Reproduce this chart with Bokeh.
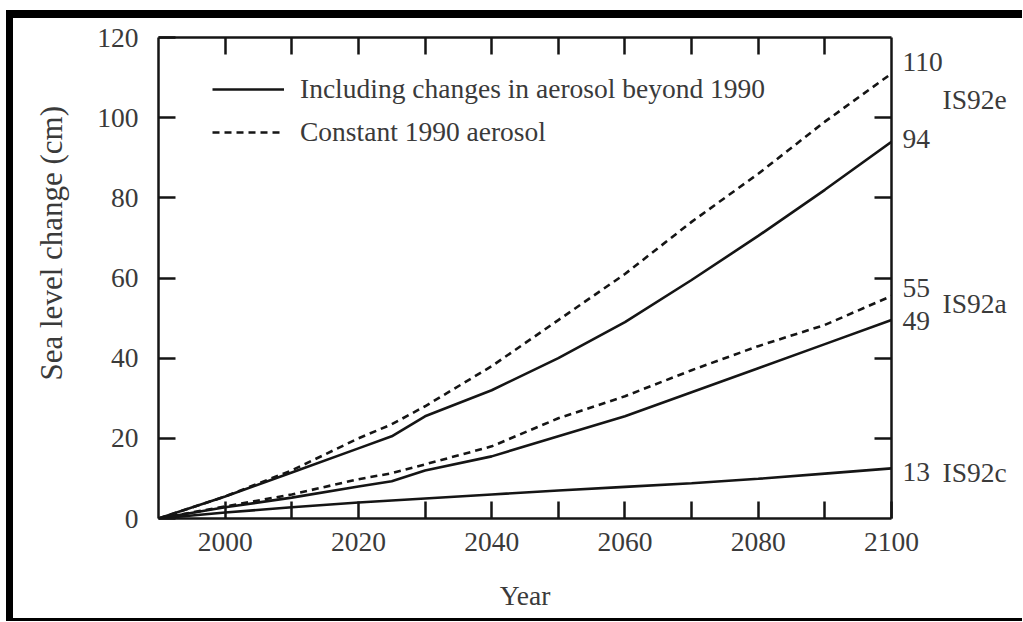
from bokeh.plotting import figure
from bokeh.models import (LinearAxis, FixedTicker, Legend, LegendItem, Range1d, Title)
from bokeh.embed import file_html
from bokeh.resources import INLINE

# ---- data ----
years = [1990, 2000, 2010, 2020, 2025, 2030, 2040, 2050, 2060, 2070, 2080, 2090, 2100]
is92e_incl = [0, 5.5, 11.5, 17.5, 20.5, 25.5, 32, 40, 49, 59.5, 70.5, 82, 94]
is92e_const = [0, 5.5, 12, 20, 23.5, 28, 38, 49.5, 61, 74, 86, 99, 111]
is92a_incl = [0, 2.8, 5.2, 8.0, 9.3, 12, 15.5, 20.5, 25.5, 31.5, 37.5, 43.5, 49.5]
is92a_const = [0, 3, 6, 9.8, 11.3, 13.5, 18, 25, 30.5, 37, 43, 48.3, 55.5]
is92c_incl = [0, 1.5, 2.8, 4.0, 4.5, 5.0, 6.0, 7.0, 7.9, 8.8, 9.9, 11.2, 12.5]

end_labels = ["110", "94", "55", "49", "13"]
scenario_labels = ["IS92e", "IS92a", "IS92c"]
legend_labels = ["Including changes in aerosol beyond 1990", "Constant 1990 aerosol"]
x_label = "Year"
y_label = "Sea level change (cm)"

y_ticks = [0, 20, 40, 60, 80, 100, 120]
y_inner_ticks = [20, 40, 60, 80, 100]
x_major = [2000, 2020, 2040, 2060, 2080, 2100]
x_minor = [2010, 2030, 2050, 2070, 2090]
x_top = [2000, 2010, 2020, 2030, 2040, 2050, 2060, 2070, 2080, 2090]

# anchor heights (cm) of the right-hand annotations
end_label_pos = [114.0, 94.6, 57.4, 49.2, 11.5]
scenario_label_pos = [104.5, 53.6, 11.4]

# ---- styling ----
FONT = "Liberation Serif"
TXT = "#3a3a3a"
LINE = "#151515"
FS = "27.5px"

p = figure(width=1016, height=611, output_backend="svg", toolbar_location=None,
           x_range=Range1d(1990, 2100), y_range=Range1d(0, 120),
           min_border_left=152, min_border_right=131, min_border_top=27, min_border_bottom=103,
           x_axis_location=None, y_axis_location=None)
p.margin = (10, 0, 0, 6)
p.styles = {"box-shadow": "inset 7px 8px 0 0 #000000, inset 0 -3px 0 0 #000000"}
p.outline_line_color = None
p.xgrid.visible = False
p.ygrid.visible = False
p.background_fill_color = "white"
p.border_fill_color = None


def style_axis(ax):
    ax.axis_line_color = LINE
    ax.axis_line_width = 2.5
    ax.major_tick_line_color = LINE
    ax.major_tick_line_width = 2.5
    ax.minor_tick_line_color = LINE
    ax.minor_tick_line_width = 2.5
    ax.major_tick_in = 17
    ax.major_tick_out = 0
    ax.minor_tick_in = 17
    ax.minor_tick_out = 0
    ax.major_label_text_font = FONT
    ax.major_label_text_font_size = FS
    ax.major_label_text_color = TXT
    ax.axis_label_text_font = FONT
    ax.axis_label_text_font_style = "normal"
    ax.axis_label_text_color = TXT


left = LinearAxis(ticker=FixedTicker(ticks=y_ticks))
style_axis(left)
left.major_label_standoff = 20
p.add_layout(left, "left")

ytitle = Title(text=y_label, align="left", offset=138, vertical_align="middle",
               standoff=50, text_font=FONT, text_font_size="31px",
               text_font_style="normal", text_color=TXT)
p.add_layout(ytitle, "left")

bottom = LinearAxis(ticker=FixedTicker(ticks=x_major, minor_ticks=x_minor), axis_label=x_label)
style_axis(bottom)
bottom.major_label_standoff = 14
bottom.axis_label_text_font_size = FS
bottom.axis_label_standoff = 26
p.add_layout(bottom, "below")

top = LinearAxis(ticker=FixedTicker(ticks=[], minor_ticks=x_top))
style_axis(top)
p.add_layout(top, "above")

# right frame line: 20-cm ticks as minor ticks, end values as labelled (tickless) majors
right = LinearAxis(ticker=FixedTicker(ticks=end_label_pos, minor_ticks=y_inner_ticks),
                   major_label_overrides={v: t for v, t in zip(end_label_pos, end_labels)})
style_axis(right)
right.major_tick_in = 0
right.major_label_standoff = 11
p.add_layout(right, "right")

names = LinearAxis(ticker=FixedTicker(ticks=scenario_label_pos),
                   major_label_overrides={v: t for v, t in zip(scenario_label_pos, scenario_labels)})
style_axis(names)
names.axis_line_color = None
names.major_tick_in = 0
names.major_label_standoff = -3
p.add_layout(names, "right")

# ---- curves ----
W = 2.6
DASH = "7 5"
r_e_incl = p.line(years, is92e_incl, line_color=LINE, line_width=W)
r_e_const = p.line(years, is92e_const, line_color=LINE, line_width=W, line_dash=DASH)
p.line(years, is92a_incl, line_color=LINE, line_width=W)
p.line(years, is92a_const, line_color=LINE, line_width=W, line_dash=DASH)
p.line(years, is92c_incl, line_color=LINE, line_width=W)

# ---- legend ----
legend = Legend(items=[LegendItem(label=legend_labels[0], renderers=[r_e_incl]),
                       LegendItem(label=legend_labels[1], renderers=[r_e_const])],
                location=(54, 370), orientation="vertical",
                glyph_width=72, glyph_height=32, label_height=32, spacing=11,
                label_standoff=16, padding=0, margin=0,
                border_line_color=None, background_fill_alpha=0,
                label_text_font=FONT, label_text_font_size=FS, label_text_color=TXT)
p.add_layout(legend, "center")

open("out.html", "w").write(file_html(p, INLINE))
